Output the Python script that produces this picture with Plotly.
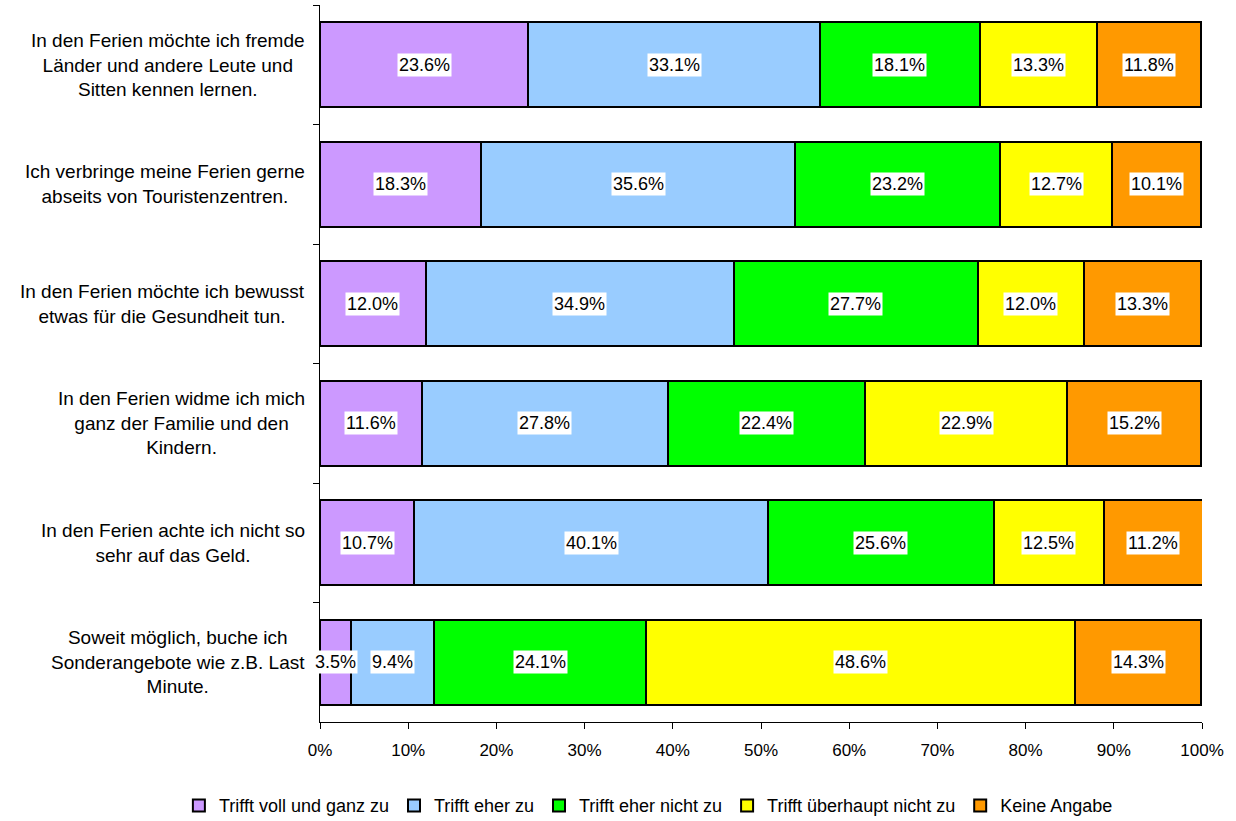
import plotly.graph_objects as go

categories = [
    "In den Ferien möchte ich fremde<br>Länder und andere Leute und<br>Sitten kennen lernen.",
    "Ich verbringe meine Ferien gerne<br>abseits von Touristenzentren.",
    "In den Ferien möchte ich bewusst<br>etwas für die Gesundheit tun.",
    "In den Ferien widme ich mich<br>ganz der Familie und den<br>Kindern.",
    "In den Ferien achte ich nicht so<br>sehr auf das Geld.",
    "Soweit möglich, buche ich<br>Sonderangebote wie z.B. Last<br>Minute.",
]
series_names = ["Trifft voll und ganz zu", "Trifft eher zu", "Trifft eher nicht zu",
                "Trifft überhaupt nicht zu", "Keine Angabe"]
voll = [23.6, 18.3, 12.0, 11.6, 10.7, 3.5]
eher = [33.1, 35.6, 34.9, 27.8, 40.1, 9.4]
eher_nicht = [18.1, 23.2, 27.7, 22.4, 25.6, 24.1]
ueberhaupt_nicht = [13.3, 12.7, 12.0, 22.9, 12.5, 48.6]
keine = [11.8, 10.1, 13.3, 15.2, 11.2, 14.3]
colors = ["#CC99FF", "#99CCFF", "#00FF00", "#FFFF00", "#FF9900"]
x_ticks = [0, 10, 20, 30, 40, 50, 60, 70, 80, 90, 100]

series = [voll, eher, eher_nicht, ueberhaupt_nicht, keine]
font = "Liberation Sans, Arial, sans-serif"

fig = go.Figure()
for name, vals, col in zip(series_names, series, colors):
    fig.add_trace(go.Bar(
        y=categories, x=vals, name=name, orientation="h",
        marker=dict(color=col, line=dict(color="#000000", width=2)),
        hoverinfo="x+name",
    ))

annotations = []
for i, cat in enumerate(categories):
    cum = 0
    for vals in series:
        v = vals[i]
        annotations.append(dict(
            x=cum + v / 2, y=cat, xref="x", yref="y", text=f"{v:.1f}%",
            showarrow=False, bgcolor="#FFFFFF", borderpad=1,
            font=dict(family=font, size=18, color="#000000"),
        ))
        cum += v
    annotations.append(dict(
        x=0, y=cat, xref="paper", yref="y", text=cat, showarrow=False,
        xanchor="right", xshift=-13, align="center",
        font=dict(family=font, size=19, color="#000000"),
    ))

fig.update_layout(
    barmode="stack",
    bargap=0.29,
    width=1236, height=821,
    margin=dict(l=320, r=34, t=5, b=99, autoexpand=False),
    paper_bgcolor="#FFFFFF", plot_bgcolor="#FFFFFF",
    font=dict(family=font, size=17, color="#000000"),
    annotations=annotations,
    showlegend=True,
    legend=dict(orientation="h", x=-0.16, xanchor="left", y=-0.091, yanchor="top",
                font=dict(family=font, size=18), traceorder="normal",
                itemwidth=30, tracegroupgap=0),
    xaxis=dict(range=[0, 100], tickvals=x_ticks, ticktext=[f"{t}%" for t in x_ticks],
               showgrid=False, zeroline=False, showline=True, linecolor="#000000",
               linewidth=1, ticks="outside", ticklen=6, tickcolor="#000000",
               ticklabelstandoff=7, automargin=False,
               tickfont=dict(family=font, size=17)),
    yaxis=dict(categoryorder="array", categoryarray=categories, autorange="reversed",
               showticklabels=False, showgrid=False, zeroline=False, showline=True,
               linecolor="#000000", linewidth=1, ticks="outside", ticklen=6,
               tickcolor="#000000", tickson="boundaries", automargin=False),
)

fig.write_html("out.html")
